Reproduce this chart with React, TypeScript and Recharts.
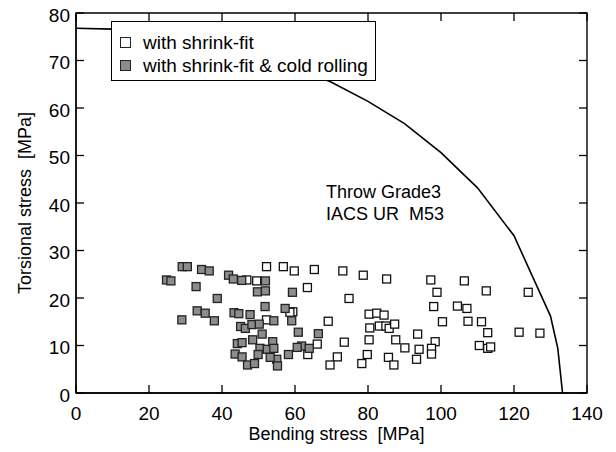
import React from 'react';
import { ScatterChart, Scatter, XAxis, YAxis, Legend, ReferenceDot, ReferenceArea, Label } from 'recharts';

const xTicks = [0, 20, 40, 60, 80, 100, 120, 140];
const yTicks = [0, 10, 20, 30, 40, 50, 60, 70, 80];

const shrinkFit = [
  { x: 46.8, y: 23.8 }, { x: 49.5, y: 23.6 }, { x: 52.2, y: 26.6 }, { x: 52.2, y: 15.4 },
  { x: 56.8, y: 26.6 }, { x: 59.8, y: 25.7 }, { x: 65.3, y: 26.0 }, { x: 73.1, y: 25.7 },
  { x: 78.7, y: 24.8 }, { x: 85.1, y: 24.0 }, { x: 63.4, y: 22.2 }, { x: 74.8, y: 19.9 },
  { x: 59.4, y: 17.1 }, { x: 58.6, y: 17.0 }, { x: 69.1, y: 15.1 }, { x: 80.3, y: 16.6 },
  { x: 82.4, y: 16.8 }, { x: 84.4, y: 16.4 }, { x: 80.5, y: 13.7 }, { x: 83.1, y: 14.1 },
  { x: 84.9, y: 14.1 }, { x: 85.8, y: 13.6 }, { x: 87.3, y: 14.5 }, { x: 66.1, y: 10.3 },
  { x: 73.5, y: 10.7 }, { x: 80.3, y: 11.2 }, { x: 63.5, y: 8.1 }, { x: 71.6, y: 7.6 },
  { x: 79.8, y: 8.1 }, { x: 69.6, y: 5.9 }, { x: 78.3, y: 6.2 }, { x: 85.6, y: 7.5 },
  { x: 87.1, y: 5.9 }, { x: 87.6, y: 11.2 }, { x: 93.6, y: 12.4 }, { x: 90.1, y: 9.5 },
  { x: 94.0, y: 9.2 }, { x: 93.3, y: 7.1 }, { x: 97.2, y: 23.8 }, { x: 106.4, y: 23.6 },
  { x: 98.9, y: 21.2 }, { x: 112.4, y: 21.5 }, { x: 123.9, y: 21.2 }, { x: 98.0, y: 18.2 },
  { x: 104.5, y: 18.3 }, { x: 107.1, y: 17.8 }, { x: 100.4, y: 15.0 }, { x: 107.4, y: 15.1 },
  { x: 111.1, y: 15.0 }, { x: 112.8, y: 12.7 }, { x: 121.4, y: 12.8 }, { x: 127.1, y: 12.6 },
  { x: 110.5, y: 10.0 }, { x: 112.8, y: 9.4 }, { x: 113.6, y: 9.7 }, { x: 98.4, y: 10.8 },
  { x: 97.4, y: 9.4 }, { x: 97.4, y: 8.2 },
];

const coldRolling = [
  { x: 29.1, y: 26.6 }, { x: 30.5, y: 26.6 }, { x: 34.4, y: 26.0 }, { x: 36.5, y: 25.7 },
  { x: 24.8, y: 23.8 }, { x: 26.0, y: 23.6 }, { x: 41.8, y: 24.8 }, { x: 43.1, y: 24.0 },
  { x: 45.4, y: 23.7 }, { x: 51.9, y: 23.6 }, { x: 32.9, y: 22.4 }, { x: 49.7, y: 21.3 },
  { x: 51.9, y: 21.5 }, { x: 38.7, y: 19.9 }, { x: 51.8, y: 18.2 }, { x: 33.2, y: 17.3 },
  { x: 35.4, y: 16.8 }, { x: 29.0, y: 15.4 }, { x: 37.9, y: 15.2 }, { x: 43.3, y: 16.9 },
  { x: 44.6, y: 16.7 }, { x: 47.7, y: 16.5 }, { x: 45.1, y: 14.0 }, { x: 46.4, y: 13.6 },
  { x: 48.2, y: 14.4 }, { x: 50.2, y: 14.5 }, { x: 51.0, y: 12.4 }, { x: 44.2, y: 10.4 },
  { x: 45.5, y: 10.6 }, { x: 48.4, y: 11.2 }, { x: 50.4, y: 9.4 }, { x: 52.4, y: 9.2 },
  { x: 43.6, y: 8.2 }, { x: 45.5, y: 7.6 }, { x: 49.9, y: 8.1 }, { x: 47.0, y: 5.9 },
  { x: 48.9, y: 6.2 }, { x: 59.3, y: 21.2 }, { x: 57.3, y: 17.8 }, { x: 59.1, y: 15.2 },
  { x: 54.2, y: 15.2 }, { x: 60.9, y: 12.8 }, { x: 66.4, y: 12.5 }, { x: 53.9, y: 10.8 },
  { x: 54.2, y: 9.4 }, { x: 61.8, y: 9.9 }, { x: 63.9, y: 9.4 }, { x: 60.6, y: 9.6 },
  { x: 58.2, y: 8.1 }, { x: 55.0, y: 7.1 }, { x: 55.2, y: 5.7 }, { x: 53.2, y: 7.5 },
];

const limitCurve = [
  { x: 0, y: 76.8 }, { x: 10, y: 76.6 }, { x: 20, y: 75.9 }, { x: 30, y: 74.8 },
  { x: 40, y: 73.3 }, { x: 50, y: 71.2 }, { x: 60, y: 68.6 }, { x: 70, y: 65.4 },
  { x: 80, y: 61.4 }, { x: 90, y: 56.7 }, { x: 100, y: 50.6 }, { x: 110, y: 43.2 },
  { x: 120, y: 33.1 }, { x: 130, y: 16.2 }, { x: 132, y: 9.4 }, { x: 133.3, y: 0 },
];

const annotationLines = ['Throw Grade3', 'IACS UR  M53'];
const annotationAnchor = { x: 68.5, y: 41 };

const legendItems = [
  { label: 'with shrink-fit', fill: '#ffffff' },
  { label: 'with shrink-fit & cold rolling', fill: '#8c8c8c' },
];

const FONT = '"Liberation Sans", Arial, Helvetica, sans-serif';

// layout constants
const W = 616;
const H = 452;
const MARGIN = { top: 13, right: 29, bottom: 8, left: 0 };
const X_AXIS_H = 51;
const Y_AXIS_W = 76;
const PLOT_TOP = MARGIN.top;
const PLOT_RIGHT = W - MARGIN.right;
const TICK_LEN = 8;
const TICK_W = 1.3;
const INK = '#000';

const hollowShape = (p: any) => (
  <rect x={p.cx - 4} y={p.cy - 4} width={8} height={8} fill="#ffffff" stroke="#111" strokeWidth={1.3} />
);
const filledShape = (p: any) => (
  <rect x={p.cx - 4} y={p.cy - 4} width={8} height={8} fill="#8c8c8c" stroke="#222" strokeWidth={1.3} />
);
const noShape = () => <g />;

const XTick = (p: any) => {
  const x = Number(p.x);
  const y = Number(p.y);
  return (
    <g>
      <rect x={x - TICK_W / 2} y={y - TICK_LEN} width={TICK_W} height={TICK_LEN} fill={INK} />
      <rect x={x - TICK_W / 2} y={PLOT_TOP} width={TICK_W} height={TICK_LEN} fill={INK} />
      <text x={x} y={y + 27} textAnchor="middle" fontSize={19} fontFamily={FONT} fill={INK}>
        {p.payload.value}
      </text>
    </g>
  );
};

const YTick = (p: any) => {
  const x = Number(p.x);
  const y = Number(p.y);
  return (
    <g>
      <rect x={x} y={y - TICK_W / 2} width={TICK_LEN} height={TICK_W} fill={INK} />
      <rect x={PLOT_RIGHT - TICK_LEN} y={y - TICK_W / 2} width={TICK_LEN} height={TICK_W} fill={INK} />
      <text x={x - 6} y={y + 8.7} textAnchor="end" fontSize={19} fontFamily={FONT} fill={INK}>
        {p.payload.value}
      </text>
    </g>
  );
};

const LegendBox = () => (
  <div
    style={{
      boxSizing: 'border-box',
      width: 265,
      height: 60,
      border: '1px solid #000',
      background: '#fff',
      paddingTop: 9,
      fontFamily: FONT,
      fontSize: 19,
      color: '#000',
    }}
  >
    {legendItems.map((it) => (
      <div key={it.label} style={{ display: 'flex', alignItems: 'center', height: 23, whiteSpace: 'nowrap' }}>
        <span
          style={{
            display: 'inline-block',
            boxSizing: 'border-box',
            width: 11,
            height: 11,
            marginLeft: 8,
            marginRight: 12,
            border: '1px solid #222',
            background: it.fill,
          }}
        />
        <span>{it.label}</span>
      </div>
    ))}
  </div>
);

const Annotation = (props: any) => {
  const vb = props.viewBox || {};
  const x = vb.x;
  const y = vb.y;
  return (
    <text x={x} y={y} fontSize={18} fontFamily={FONT} fill={INK} style={{ whiteSpace: 'pre' }}>
      {annotationLines.map((t, i) => (
        <tspan key={t} x={x} dy={i === 0 ? 0 : 21.6}>{t}</tspan>
      ))}
    </text>
  );
};

export default function App() {
  return (
    <div style={{ position: 'absolute', left: 0, top: 0, width: W, height: H }}>
      <ScatterChart width={W} height={H} margin={MARGIN}>
        <ReferenceArea
          x1={0}
          x2={140}
          y1={0}
          y2={80}
          fill="none"
          fillOpacity={0}
          stroke={INK}
          strokeWidth={1.4}
          strokeOpacity={1}
        />
        <XAxis
          dataKey="x"
          type="number"
          domain={[0, 140]}
          ticks={xTicks}
          interval={0}
          height={X_AXIS_H}
          tickSize={0}
          tickMargin={0}
          axisLine={{ stroke: INK, strokeWidth: 1.3 }}
          tickLine={false}
          tick={XTick}
        >
          <Label
            value={'Bending stress \u00A0[MPa]'}
            position="insideBottom"
            offset={4}
            dx={5}
            style={{ fontSize: 18, fontFamily: FONT, fill: INK }}
          />
        </XAxis>
        <YAxis
          dataKey="y"
          type="number"
          domain={[0, 80]}
          ticks={yTicks}
          interval={0}
          width={Y_AXIS_W}
          tickSize={0}
          tickMargin={0}
          axisLine={{ stroke: INK, strokeWidth: 1.3 }}
          tickLine={false}
          tick={YTick}
        >
          <Label
            value={'Torsional stress \u00A0[MPa]'}
            angle={-90}
            position="insideLeft"
            offset={25}
            style={{ fontSize: 18, fontFamily: FONT, fill: INK, textAnchor: 'middle' }}
          />
        </YAxis>
        <Scatter
          name="IACS UR M53"
          data={limitCurve}
          line={{ stroke: INK, strokeWidth: 1.6 }}
          lineType="joint"
          shape={noShape}
          legendType="none"
          isAnimationActive={false}
        />
        <Scatter name="with shrink-fit" data={shrinkFit} shape={hollowShape} isAnimationActive={false} />
        <Scatter name="with shrink-fit & cold rolling" data={coldRolling} shape={filledShape} isAnimationActive={false} />
        <ReferenceDot
          x={annotationAnchor.x}
          y={annotationAnchor.y}
          r={0}
          fill="none"
          stroke="none"
          label={Annotation}
        />
        <Legend
          layout="horizontal"
          verticalAlign="middle"
          align="center"
          content={LegendBox}
          wrapperStyle={{ position: 'absolute', left: 111, top: 21, width: 265, height: 60 }}
        />
      </ScatterChart>
    </div>
  );
}
